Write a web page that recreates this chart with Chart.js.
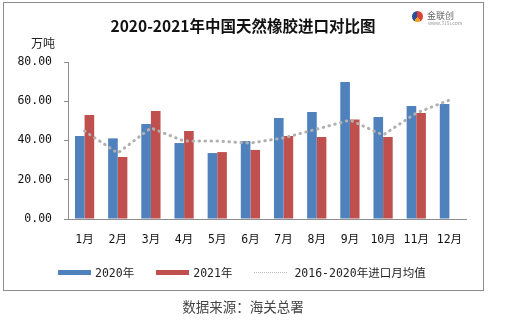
<!DOCTYPE html>
<html lang="zh-CN">
<head>
<meta charset="UTF-8">
<title>2020-2021年中国天然橡胶进口对比图</title>
<script src="https://cdn.jsdelivr.net/npm/chart.js"></script>
<style>
    body {
    margin: 0;
    background: #fff;
    font-family: "Noto Sans CJK SC", sans-serif;
    }
    .wrap {
    position: relative;
    width: 513px;
    height: 322px;
    overflow: hidden;
    }
    .frame {
    position: absolute;
    left: 3px; top: 2px;
    width: 479px; height: 287px;
    border: 1px solid #8c8c8c;
    }
    canvas { position: absolute; left: 0; top: 0; }
    .title {
    position: absolute;
    left: 0; width: 486px; top: 14px;
    text-align: center;
    font-size: 15.5px; font-weight: bold; color: #111;
    }
    .unit {
    position: absolute; left: 31px; top: 34px;
    font-size: 12px; color: #222;
    }
    .logo {
    position: absolute; left: 412px; top: 9px;
    font-size: 9px; color: #666;
    }
    .logo i {
    display: inline-block; width: 11px; height: 11px; border-radius: 50%;
    background: conic-gradient(#d9413a 0 40%, #f0a020 0 60%, #2b4e9a 0);
    vertical-align: middle; margin-right: 4px;
    }
    .logo small { display: block; font-size: 5px; margin-left: 16px; margin-top: -3px; color: #999; }
    .legend {
    position: absolute; top: 264px; left: 58px;
    font-family: "DejaVu Sans Mono", "Noto Sans CJK SC", monospace;
    font-size: 11.5px; color: #222;
    display: flex; align-items: center;
    }
    .legend span.sw { display: inline-block; width: 33px; height: 5px; margin-right: 4px; }
    .legend span.dot { display: inline-block; width: 33px; border-top: 1.5px dotted #bbb; margin-right: 7px; }
    .legend .item { display: flex; align-items: center; margin-right: 22px; }
    .source {
    position: absolute; left: 0; width: 486px; top: 296px;
    text-align: center; font-size: 13.5px; color: #444;
    }
</style>
</head>
<body>
<div class="wrap">
    <div class="frame"></div>
    <canvas id="chart" width="513" height="322"></canvas>
    <div class="title">2020-2021年中国天然橡胶进口对比图</div>
    <div class="logo"><i></i>金联创<small>www.315i.com</small></div>
    <div class="unit">万吨</div>
    <div class="legend" id="legend"></div>
    <div class="source">数据来源：海关总署</div>
</div>

<script>
    const months = ['1月', '2月', '3月', '4月', '5月', '6月', '7月', '8月', '9月', '10月', '11月', '12月'];
    const seriesNames = ['2020年', '2021年', '2016-2020年进口月均值'];
    const imports2020 = [42.3, 41.1, 48.4, 38.7, 33.6, 39.7, 51.5, 54.5, 69.8, 52.0, 57.6, 58.6];
    const imports2021 = [53.0, 31.6, 55.0, 44.8, 34.1, 35.2, 42.3, 41.8, 50.7, 41.8, 54.0, null];
    const avg2016_2020 = [44.8, 33.6, 46.4, 39.7, 39.7, 38.7, 41.3, 45.8, 50.4, 42.8, 54.0, 60.6];
    const yTicks = [0, 20, 40, 60, 80];

    const tickFont = { family: '"DejaVu Sans Mono", "Noto Sans CJK SC", monospace', size: 11.5 };

    new Chart(document.getElementById('chart'), {
    type: 'bar',
    data: {
        labels: months,
        datasets: [{
        label: seriesNames[0],
        data: imports2020,
        backgroundColor: '#4f81bd',
        order: 1,
        categoryPercentage: 0.58,
        barPercentage: 1.0
        }, {
        label: seriesNames[1],
        data: imports2021,
        backgroundColor: '#c0504d',
        order: 1,
        categoryPercentage: 0.58,
        barPercentage: 1.0
        }, {
        type: 'line',
        label: seriesNames[2],
        data: avg2016_2020,
        borderColor: '#b0b0b0',
        borderWidth: 3,
        borderDash: [0.5, 5.5],
        borderCapStyle: 'round',
        pointRadius: 0,
        tension: 0,
        fill: false,
        order: 0
        }]
    },
    options: {
        responsive: false,
        animation: false,
        layout: { padding: { left: 0, right: 47, top: 62, bottom: 0 } },
        plugins: { legend: { display: false }, tooltip: { enabled: false } },
        scales: {
        x: {
            grid: { display: false, drawTicks: false },
            border: { display: true, color: '#8c8c8c', width: 1 },
            ticks: { color: '#111', font: tickFont, padding: 14, maxRotation: 0 },
            afterFit: s => { s.height = 103; }
        },
        y: {
            min: yTicks[0],
            max: yTicks[yTicks.length - 1],
            afterBuildTicks: s => { s.ticks = yTicks.map(v => ({ value: v })); },
            grid: { drawOnChartArea: false, drawTicks: true, tickLength: 4, color: '#8c8c8c' },
            border: { display: true, color: '#8c8c8c', width: 1 },
            ticks: { color: '#111', font: tickFont, padding: 12, callback: v => v.toFixed(2) },
            afterFit: s => { s.width = 68; }
        }
        }
    }
    });

    // 图例
    const legend = document.getElementById('legend');
    legend.innerHTML =
    `<div class="item"><span class="sw" style="background:#4f81bd"></span>${seriesNames[0]}</div>` +
    `<div class="item"><span class="sw" style="background:#c0504d"></span>${seriesNames[1]}</div>` +
    `<div class="item"><span class="dot"></span>${seriesNames[2]}</div>`;
</script>
</body>
</html>
